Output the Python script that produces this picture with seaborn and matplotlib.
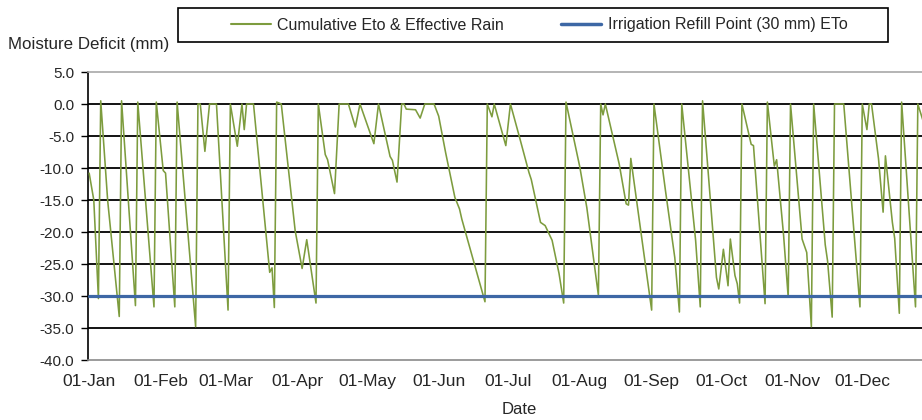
import numpy as np
import pandas as pd
import matplotlib
matplotlib.use("Agg")
import matplotlib.pyplot as plt
import matplotlib.dates as mdates
import matplotlib.ticker as mticker
from matplotlib.patches import Rectangle
from matplotlib.lines import Line2D
import seaborn as sns

# ---- data (day of year offset from 01-Jan, moisture deficit in mm) ----
year_start = "2015-01-01"
deficit_days = [0, 2, 4, 5, 8, 13, 14, 20, 21, 28, 29, 32, 33, 37, 38, 46, 47, 48,
                50, 52, 55, 60, 61, 64, 66, 67, 68, 71, 78, 79, 80, 81, 83, 89, 92,
                94, 98, 99, 102, 103, 106, 108, 112, 115, 117, 123, 125, 130, 131,
                133, 135, 136, 137, 141, 143, 145, 149, 151, 154, 158, 160, 161, 171,
                172, 174, 175, 180, 182, 186, 190, 191, 195, 197, 200, 203, 205, 206,
                212, 215, 220, 221, 222, 223, 229, 232, 233, 234, 243, 244, 249, 253,
                255, 256, 262, 264, 265, 271, 272, 274, 276, 277, 279, 280, 281, 282,
                286, 287, 292, 293, 296, 297, 300, 302, 303, 308, 310, 312, 313, 318,
                319, 321, 322, 326, 333, 334, 336, 337, 338, 341, 343, 344, 347, 348,
                350, 351, 357, 358, 361]
deficit_mm = [-10.8, -15.0, -30.4, 0.5, -15.1, -33.2, 0.5, -31.5, 0.3, -31.7, 0.3,
              -10.4, -10.8, -31.7, 0.3, -34.8, 0.0, 0.0, -7.4, 0.0, 0.0, -32.2, 0.0,
              -6.6, 0.0, -4.0, 0.0, 0.0, -26.3, -25.6, -31.8, 0.3, 0.0, -19.8, -25.7,
              -21.2, -31.1, 0.0, -7.9, -8.7, -14.0, 0.0, 0.0, -3.6, 0.0, -6.2, 0.0,
              -8.2, -8.8, -12.2, 0.0, 0.0, -0.8, -0.9, -2.2, 0.0, 0.0, -1.9, -7.6,
              -14.6, -16.4, -18.0, -30.9, 0.0, -2.0, 0.0, -6.5, 0.0, -5.3, -10.7,
              -11.8, -18.5, -19.0, -21.3, -26.5, -31.1, 0.3, -9.9, -16.2, -29.9, 0.0,
              -1.7, 0.0, -9.4, -15.6, -15.8, -8.5, -32.2, 0.0, -13.6, -24.0, -32.5,
              0.0, -21.3, -31.7, 0.5, -27.1, -28.9, -22.7, -28.4, -21.1, -26.8, -28.1,
              -31.1, 0.0, -6.3, -6.5, -31.2, 0.3, -9.7, -8.7, -20.5, -30.2, 0.0,
              -21.1, -23.2, -34.8, 0.0, -22.0, -24.5, -33.3, 0.0, 0.0, -31.7, 0.0,
              -4.0, 0.0, 0.0, -8.5, -16.9, -8.1, -18.5, -21.0, -32.7, 0.3, -31.7, 0.0,
              -3.5]
refill_point_mm = 30
y_ticks = [5, 0, -5, -10, -15, -20, -25, -30, -35, -40]
series_names = ["Cumulative Eto & Effective Rain", "Irrigation Refill Point (30 mm) ETo"]

start = pd.Timestamp(year_start)
df = pd.DataFrame({"date": start + pd.to_timedelta(deficit_days, unit="D"),
                   "deficit": deficit_mm})
all_dates = pd.date_range(year_start, periods=365, freq="D")
refill = pd.DataFrame({"date": all_dates, "deficit": -refill_point_mm})

# ---- style ----
sns.set_style("white")
fam = ["Liberation Sans", "DejaVu Sans"]
plt.rcParams["font.family"] = fam
green = "#7d9c3e"
blue = "#3d67a5"

fig = plt.figure(figsize=(9.22, 4.20), dpi=100)
ax = fig.add_axes([88 / 922, 1 - 360 / 420, 834 / 922, 288 / 420])

for y in y_ticks[1:-1]:
    ax.axhline(y, color="black", lw=1.3, zorder=1)

sns.lineplot(data=df, x="date", y="deficit", ax=ax, color=green, lw=1.15,
             zorder=3, estimator=None)
sns.lineplot(data=refill, x="date", y="deficit", ax=ax, color=blue, lw=2.3,
             zorder=4, estimator=None)

ax.set_ylim(-40, 5)
ax.set_yticks(y_ticks)
ax.yaxis.set_major_formatter(mticker.FormatStrFormatter("%.1f"))
ax.set_xlim(start - pd.Timedelta(hours=12), start + pd.Timedelta(days=359.8))
ax.xaxis.set_major_locator(mdates.MonthLocator())
ax.xaxis.set_major_formatter(mdates.DateFormatter("%d-%b"))
ax.tick_params(axis="x", length=0, pad=10, labelsize=12.5)
ax.tick_params(axis="y", length=5, width=1, color="black", direction="out",
               pad=5, labelsize=11, left=True)
ax.set_xlabel("")
ax.set_ylabel("")

ax.spines["left"].set_color("black")
ax.spines["left"].set_linewidth(1.2)
ax.spines["bottom"].set_color("#8a8a8a")
ax.spines["bottom"].set_linewidth(1.2)
ax.spines["top"].set_color("#a8a8a8")
ax.spines["top"].set_linewidth(1.2)
ax.spines["right"].set_visible(False)

fig.text(8 / 922, 1 - 44 / 420, "Moisture Deficit (mm)", ha="left", va="center",
         fontsize=12.2)
fig.text(519 / 922, 1 - 409 / 420, "Date", ha="center", va="center", fontsize=12)

# legend box
fig.patches.append(Rectangle((178 / 922, 1 - 42 / 420), 710 / 922, 34 / 420,
                             transform=fig.transFigure, fill=False,
                             edgecolor="black", lw=1.2))
handles = [Line2D([], [], color=green, lw=1.5), Line2D([], [], color=blue, lw=2.5)]
fig.legend(handles, series_names, loc="center", ncol=2, frameon=False,
           bbox_to_anchor=(539 / 922, 1 - 25 / 420), fontsize=11.5,
           handlelength=2.5, handletextpad=0.4, columnspacing=3.6)

fig.savefig("out.png", dpi=100)
